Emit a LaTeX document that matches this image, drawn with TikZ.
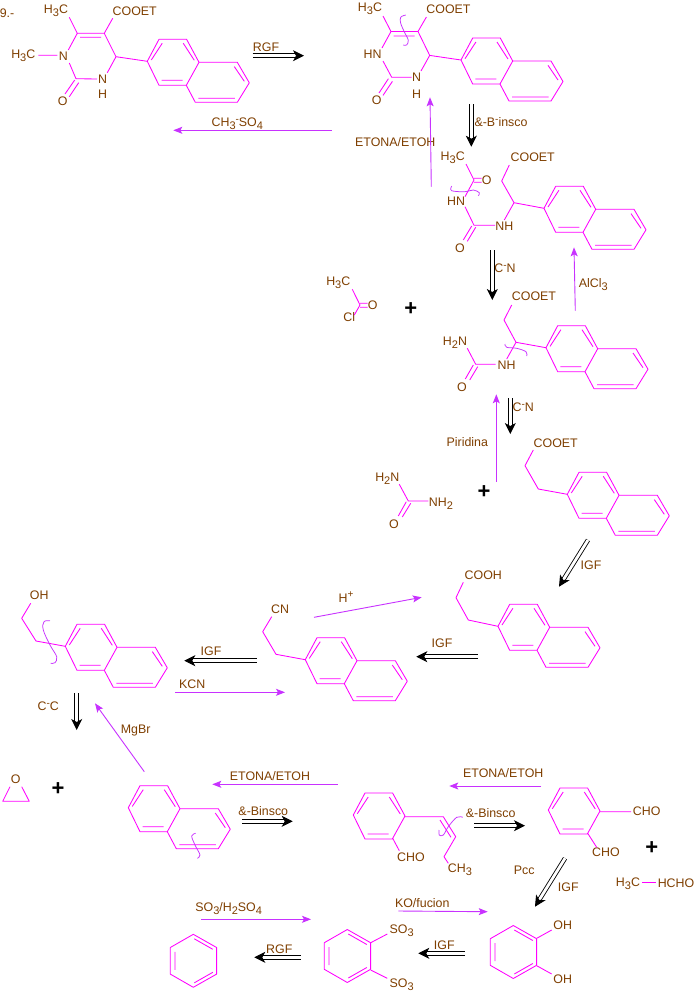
\documentclass[tikz,border=0pt]{standalone}
\usepackage{fontspec}
\setmainfont{Liberation Sans}
\usetikzlibrary{arrows.meta}
\definecolor{brn}{HTML}{7F3F00}
\definecolor{mag}{HTML}{FF00FF}
\definecolor{prp}{HTML}{C832FF}
\newcommand\lo[1]{\lower3pt\hbox{\fontsize{11}{12}\selectfont #1}}
\newcommand\hi[1]{\raise4.5pt\hbox{\fontsize{10}{12}\selectfont #1}}
\tikzset{
  txt/.style={text=brn,inner sep=0pt,font=\fontsize{12.4}{14}\selectfont},
  bond/.style={draw=mag,line width=.85pt,line join=round},
  wavy/.style={draw=prp,line width=.75pt,smooth,tension=.6},
  rxn/.style={draw=prp,line width=.9pt,-{Stealth[length=9pt,width=7pt,inset=2pt]}},
  dbl/.style={draw=black,line width=.85pt,double=white,double distance=2.8pt,-{Stealth[length=11pt,width=11pt,inset=3pt]}},
  plus/.style={text=black,inner sep=0pt,font=\fontsize{22}{22}\selectfont\bfseries}
}
\newcommand\hexa[2]{\begin{scope}[shift={(#1,#2)}]
  \draw[bond] (0,0)--(11.7,-22)--(39.3,-22)--(51.7,1)--(39,24)--(11.7,24)--cycle;
  \draw[bond] (14.9,-18)--(4,-1.3) (36,-18)--(47,-1) (14.3,19)--(35.3,19);
\end{scope}}
\newcommand\naphth[2]{\hexa{#1}{#2}\begin{scope}[shift={(#1,#2)}]
  \draw[bond] (51.7,1)--(90,1)--(102,21.5)--(90,41)--(48,41)--(39,24);
  \draw[bond] (87,5.3)--(97,20) (51,37)--(87.5,37);
\end{scope}}
\newcommand\benzr[2]{\begin{scope}[shift={(#1,#2)}]
  \draw[bond] (0,-26.5)--(23.3,-13.3)--(23.3,13.3)--(0,26.5)--(-23,13.3)--(-23,-13.3)--cycle;
  \draw[bond] (1,-22)--(19.5,-11.5) (1,22)--(19.5,11.5) (-18.3,-9)--(-18.3,9);
\end{scope}}
\newcommand\rxnarrow[6]{\coordinate (#1s) at (#3,#4);\coordinate (#1e) at (#5,#6);\draw[#2] (#1s)--(#1e);}
\begin{document}
\begin{tikzpicture}[x=1pt,y=-1pt]
\useasboundingbox (0,0) rectangle (697,994);
\fill[white] (0,0) rectangle (697,994);
% ---- molecule 1
\node[txt] (n1) at (7,13) {9.-};
\node[txt] (m1a) at (56,11) {H\lo{3}C};
\node[txt] (m1b) at (134.7,11) {COOET};
\node[txt] (m1c) at (23.3,56) {H\lo{3}C};
\node[txt] (m1d) at (63.3,56) {N};
\node[txt] (m1e) at (102.7,79.3) {N};
\node[txt] (m1f) at (102.7,94.7) {H};
\node[txt] (m1g) at (62.7,101.7) {O};
\draw[bond] (69.3,17.3)--(77.3,33.3)--(104.3,33.3)--(112.7,18.3) (80,37.3)--(101,37.3)
  (104.3,33.3)--(116,56.7)--(147.3,61.3) (116,56.7)--(107.3,72.7) (97,79)--(76,78.7)--(69.3,63)
  (68.3,50)--(77.3,33.3) (38.3,55.3)--(57.3,55.3) (74.7,80)--(65,94) (78.7,82.7)--(69.3,96.7);
\naphth{147.3}{61.3}
% ---- molecule 2
\node[txt] (m2a) at (370,8.5) {H\lo{3}C};
\node[txt] (m2b) at (448.5,9) {COOET};
\node[txt] (m2c) at (372.7,54) {HN};
\node[txt] (m2d) at (416.7,77.3) {N};
\node[txt] (m2e) at (416.7,94) {H};
\node[txt] (m2f) at (376.7,100) {O};
\draw[bond] (383,16)--(391,31.5)--(418,31.5)--(426.4,17) (393.7,36)--(414.7,36)
  (418,31.5)--(429.7,55.4)--(461,60) (429.7,55.4)--(421,71) (411.7,77.3)--(391.7,77.3)--(383,61)
  (382,48)--(391,31.5) (388.4,78.7)--(379,93) (392.4,81.4)--(383,95.4);
\naphth{461}{60}
\draw[wavy] plot coordinates {(405.7,15) (400.7,17.3) (400.7,23.3) (405,33.3) (408.3,40) (406.7,45) (403.3,45)};
% ---- molecule 3
\node[txt] (m3a) at (452.7,157.3) {H\lo{3}C};
\node[txt] (m3b) at (532.7,157.3) {COOET};
\node[txt] (m3c) at (486.7,180.3) {O};
\node[txt] (m3d) at (456,201.7) {HN};
\node[txt] (m3e) at (504.3,226.7) {NH};
\node[txt] (m3f) at (460,248) {O};
\draw[bond] (466,164)--(474,180)--(465,196.7) (474,178.3)--(481.7,178.3) (474,182.3)--(481.7,182.3)
  (465,206.7)--(474,225.3)--(495,225.3) (471.7,226)--(463.3,240) (475.7,227.3)--(467.3,241.3)
  (504.3,220)--(514,202.7)--(544,208.3) (514,202.7)--(501.7,181)--(509.3,165);
\naphth{544}{208.3}
\draw[wavy] plot coordinates {(451.7,186) (451.7,190.7) (465,191.7) (473.3,190) (479.3,192.7) (478.3,195.7)};
% ---- acetyl chloride
\node[txt] (ac1) at (338.3,282.3) {H\lo{3}C};
\node[txt] (ac2) at (372.7,305) {O};
\node[txt] (ac3) at (349.3,317) {Cl};
\draw[bond] (352.3,289.3)--(360,305)--(354.3,315) (360,303.3)--(367.7,303.3) (360,307.3)--(367.7,307.3);
\node[plus] (p1) at (410.7,309.3) {+};
% ---- molecule 4
\node[txt] (m4a) at (534,296) {COOET};
\node[txt] (m4b) at (455,342.7) {H\lo{2}N};
\node[txt] (m4c) at (506.7,365) {NH};
\node[txt] (m4d) at (462,387) {O};
\draw[bond] (467.3,348.3)--(475.7,364.3)--(495.7,364.3) (473.3,365)--(465.3,379) (477.7,366.7)--(469.7,380)
  (506.7,359)--(516,342.3)--(546,347.7) (516,342.3)--(504,320)--(511.7,305);
\naphth{546}{347.7}
\draw[wavy] plot coordinates {(505,344) (506.7,347.3) (516.7,348.3) (526,351.7) (526.7,356)};
% ---- urea
\node[txt] (u1) at (387.3,478.3) {H\lo{2}N};
\node[txt] (u2) at (441,503.3) {NH\lo{2}};
\node[txt] (u3) at (394,524) {O};
\draw[bond] (399.3,484.3)--(408.3,501)--(428.3,501) (406.3,501.7)--(398.3,516) (410.7,503.3)--(402.3,517);
\node[plus] (p2) at (484,491.7) {+};
% ---- molecule 5
\node[txt] (m5a) at (555.7,443.3) {COOET};
\draw[bond] (533.3,450)--(525,465.7)--(538.3,489)--(567.3,494.3);
\naphth{567.3}{494.3}
% ---- molecule 6
\node[txt] (m6a) at (483.3,575) {COOH};
\draw[bond] (463.3,582.3)--(456,597.7)--(468.3,620)--(498,626.3);
\naphth{498}{626.3}
% ---- molecule 7
\node[txt] (m7a) at (280,609.3) {CN};
\draw[bond] (271.7,616.7)--(262.7,631.7)--(276,654.3)--(305.3,659.7);
\naphth{305.3}{659.7}
% ---- molecule 8
\node[txt] (m8a) at (39.3,595) {OH};
\draw[bond] (30.7,603.3)--(21.7,618.3)--(36,641)--(65.3,646.3);
\naphth{65.3}{646.3}
\draw[wavy] plot coordinates {(50,620.7) (44,621.7) (43.3,630) (50,645) (56.7,656.7) (55,662.7) (50.7,663.3)};
% ---- molecule 9
\naphth{128.3}{807.7}
\draw[wavy] plot coordinates {(195.7,833.3) (191.7,836) (195,845) (200,855) (197.3,858.3)};
% ---- epoxide
\node[txt] (ep1) at (15.7,779) {O};
\draw[bond] (10,786.7)--(2.7,801.3)--(29.3,801.3)--(21.7,786.7);
\node[plus] (p3) at (58,789) {+};
% ---- propenyl benzaldehyde
\hexa{353.3}{815}
\node[txt] (m10a) at (411,857.3) {CHO};
\node[txt] (m10b) at (460,870) {CH\lo{3}};
\draw[bond] (405,816.7)--(443.3,816.7)--(455.7,836.7)--(444,856.7)--(448.3,863.3) (440,820)--(451,837.3)
  (392.7,838.3)--(399.3,850.7);
\draw[wavy] plot coordinates {(462.7,817.3) (456.7,817.3) (448.3,826.7) (443.3,835) (439.3,835) (439,830)};
% ---- phthalaldehyde
\hexa{548.3}{810}
\node[txt] (m11a) at (646.7,811) {CHO};
\node[txt] (m11b) at (606,852) {CHO};
\draw[bond] (600,811.7)--(631,811.7) (587.7,833.3)--(596.7,847.3);
\node[plus] (p4) at (651.7,848.3) {+};
\node[txt] (h1) at (628,883.3) {H\lo{3}C};
\node[txt] (h2) at (676,883.3) {HCHO};
\draw[bond] (642,882.3)--(655.7,882.3);
% ---- catechol
\benzr{513.3}{952}
\node[txt] (c1) at (562.7,925) {OH};
\node[txt] (c2) at (562.7,979) {OH};
\draw[bond] (536.7,938.3)--(551.7,930) (536.7,965.7)--(551.7,974);
% ---- sulfonic
\benzr{347.3}{956}
\node[txt] (s1) at (401.7,931) {SO\lo{3}};
\node[txt] (s2) at (401.7,985) {SO\lo{3}};
\draw[bond] (370.7,942.7)--(387.3,934) (370.7,970)--(387.3,978.3);
% ---- benzene
\benzr{193.3}{960.8}
% ---- reagent labels
\node[txt] (l1) at (266,47.3) {RGF};
\node[txt] (l2) at (237.3,124) {CH\lo{3}\hi{-}SO\lo{4}};
\node[txt] (l3) at (501,122.3) {\&-B\hi{-}insco};
\node[txt] (l4) at (395.3,142) {ETONA/ETOH};
\node[txt] (l5) at (505,268.3) {C\hi{-}N};
\node[txt] (l6) at (593.3,284.3) {AlCl\lo{3}};
\node[txt] (l7) at (523.3,407.7) {C\hi{-}N};
\node[txt] (l8) at (467.3,442.3) {Piridina};
\node[txt] (l9) at (591,565.7) {IGF};
\node[txt] (l10) at (346,597) {H\hi{+}};
\node[txt] (l11) at (442,643.3) {IGF};
\node[txt] (l12) at (211,651) {IGF};
\node[txt] (l13) at (192.3,684.3) {KCN};
\node[txt] (l14) at (48.3,706.7) {C\hi{-}C};
\node[txt] (l15) at (135.7,730.7) {MgBr};
\node[txt] (l16) at (270,776) {ETONA/ETOH};
\node[txt] (l17) at (503.3,773.3) {ETONA/ETOH};
\node[txt] (l18) at (263.3,810.7) {\&-Binsco};
\node[txt] (l19) at (490.7,812.7) {\&-Binsco};
\node[txt] (l20) at (524.3,870) {Pcc};
\node[txt] (l21) at (568.3,887.3) {IGF};
\node[txt] (l22) at (422.3,902.7) {KO/fucion};
\node[txt] (l23) at (228.7,909) {SO\lo{3}/H\lo{2}SO\lo{4}};
\node[txt] (l24) at (444.3,945) {IGF};
\node[txt] (l25) at (279.3,949.3) {RGF};
% ---- purple arrows
\rxnarrow{pa}{rxn}{331.7}{130.3}{173.3}{130.3}
\rxnarrow{pb}{rxn}{431.3}{186.7}{430}{97.3}
\rxnarrow{pc}{rxn}{575.3}{310.7}{574}{247.3}
\rxnarrow{pd}{rxn}{496.3}{481.7}{496.3}{394.3}
\rxnarrow{pe}{rxn}{314}{617.3}{421.7}{597.3}
\rxnarrow{pf}{rxn}{175}{692.3}{285}{692.3}
\rxnarrow{pg}{rxn}{144.3}{771.7}{95}{703.3}
\rxnarrow{ph}{rxn}{337.7}{784.3}{212.3}{784.3}
\rxnarrow{pi}{rxn}{541}{786}{449.3}{786}
\rxnarrow{pj}{rxn}{398.3}{911}{487.7}{911.7}
\rxnarrow{pk}{rxn}{201}{919.3}{311}{919.3}
% ---- black double arrows
\rxnarrow{ba}{dbl}{252.7}{55.7}{304}{55.7}
\rxnarrow{bb}{dbl}{471.3}{104}{471.3}{146.7}
\rxnarrow{bc}{dbl}{492.3}{250}{492.3}{300}
\rxnarrow{bd}{dbl}{510.3}{398.3}{510.3}{434}
\rxnarrow{be}{dbl}{588}{540}{559}{586.7}
\rxnarrow{bf}{dbl}{478}{656.7}{416.3}{656.7}
\rxnarrow{bg}{dbl}{256.7}{660.7}{184.3}{660.7}
\rxnarrow{bh}{dbl}{76.7}{693.3}{76.7}{730}
\rxnarrow{bi}{dbl}{242}{821.3}{292.7}{821.3}
\rxnarrow{bj}{dbl}{474}{825.7}{525}{825.7}
\rxnarrow{bk}{dbl}{565}{858.3}{535}{906.7}
\rxnarrow{bl}{dbl}{465}{953.3}{418.3}{953.3}
\rxnarrow{bm}{dbl}{300.7}{957.3}{254.3}{957.3}
\end{tikzpicture}
\end{document}
